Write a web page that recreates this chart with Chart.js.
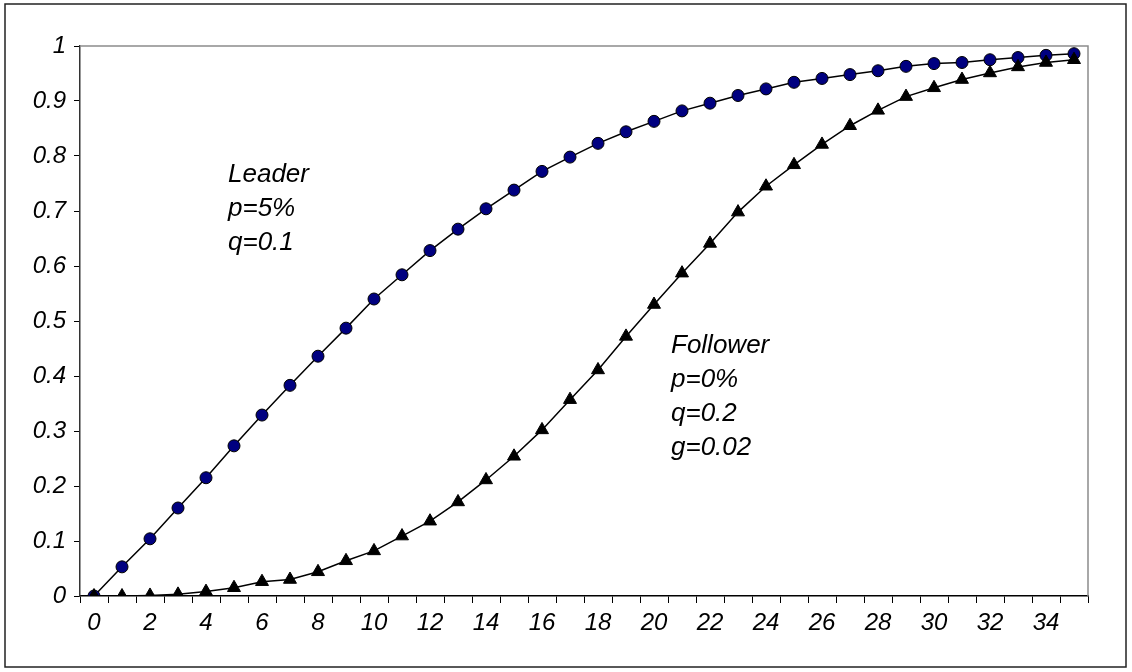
<!DOCTYPE html>
<html>
<head>
<meta charset="utf-8">
<script src="https://cdn.jsdelivr.net/npm/chart.js@4/dist/chart.umd.min.js"></script>
<style>
  html, body { margin: 0; padding: 0; background: #fff; }
  #wrap { position: relative; width: 1132px; height: 672px; }
</style>
</head>
<body>
<div id="wrap"><canvas id="diffusionChart" width="1132" height="672"></canvas></div>
<script>
// Data
const periods = ['0','1','2','3','4','5','6','7','8','9','10','11','12','13','14','15','16','17',
  '18','19','20','21','22','23','24','25','26','27','28','29','30','31','32','33','34','35'];
const leader = [0, 0.053, 0.104, 0.160, 0.215, 0.273, 0.329, 0.383, 0.436, 0.487, 0.540, 0.584,
  0.628, 0.667, 0.704, 0.738, 0.772, 0.798, 0.823, 0.844, 0.863, 0.882, 0.896, 0.910,
  0.922, 0.934, 0.941, 0.948, 0.955, 0.963, 0.968, 0.970, 0.975, 0.979, 0.983, 0.986];
const follower = [0, 0, 0.001, 0.003, 0.008, 0.015, 0.026, 0.030, 0.044, 0.064, 0.082, 0.109,
  0.136, 0.171, 0.211, 0.254, 0.302, 0.357, 0.411, 0.472, 0.530, 0.587, 0.641, 0.698,
  0.745, 0.784, 0.821, 0.855, 0.883, 0.908, 0.924, 0.939, 0.951, 0.962, 0.970, 0.975];
const yTickLabels = ['0','0.1','0.2','0.3','0.4','0.5','0.6','0.7','0.8','0.9','1'];
const leaderNote = ['Leader', 'p=5%', 'q=0.1'];
const followerNote = ['Follower', 'p=0%', 'q=0.2', 'g=0.02'];

const NOTE_FONT = 'italic 26px "Liberation Sans", Arial, sans-serif';

// Frame around the whole picture, grey box round the plot, and the text notes
const framePlugin = {
    id: 'frame',
    beforeDatasetsDraw(chart) {
        const { ctx, chartArea: a } = chart;
        ctx.save();
        ctx.strokeStyle = '#8c8c8c';
        ctx.lineWidth = 1.5;
        ctx.beginPath();
        ctx.moveTo(a.left, a.top);
        ctx.lineTo(a.right, a.top);
        ctx.lineTo(a.right, a.bottom);
        ctx.stroke();
        ctx.strokeStyle = '#222';
        ctx.lineWidth = 1.5;
        ctx.strokeRect(5, 4, 1121, 663);
        ctx.restore();
    },
    afterDraw(chart) {
        const ctx = chart.ctx;
        ctx.save();
        ctx.font = NOTE_FONT;
        ctx.fillStyle = '#000';
        ctx.textAlign = 'left';
        ctx.textBaseline = 'alphabetic';
        leaderNote.forEach((t, i) => ctx.fillText(t, 228, 182 + i * 34));
        followerNote.forEach((t, i) => ctx.fillText(t, 671, 353 + i * 34));
        ctx.restore();
    }
};

const tickFont = { family: '"Liberation Sans", Arial, sans-serif', size: 24, style: 'italic' };

new Chart(document.getElementById('diffusionChart'), {
    type: 'line',
    data: {
        labels: periods,
        datasets: [{
            label: 'Leader',
            data: leader,
            order: 1,
            borderColor: '#000',
            borderWidth: 1.5,
            tension: 0,
            pointStyle: 'circle',
            pointRadius: 6,
            pointBackgroundColor: '#000080',
            pointBorderColor: '#000',
            pointBorderWidth: 1
        }, {
            label: 'Follower',
            data: follower,
            order: 0,
            borderColor: '#000',
            borderWidth: 1.5,
            tension: 0,
            pointStyle: 'triangle',
            pointRadius: 7.5,
            pointBackgroundColor: '#000',
            pointBorderColor: '#000',
            pointBorderWidth: 1
        }]
    },
    options: {
        responsive: false,
        animation: false,
        events: [],
        layout: { padding: { left: 0, top: 46, right: 44, bottom: 0 } },
        plugins: { legend: { display: false }, tooltip: { enabled: false } },
        scales: {
            x: {
                type: 'category',
                offset: true,
                grid: { offset: true, drawOnChartArea: false, drawTicks: true, tickLength: 7, color: '#000', lineWidth: 1 },
                border: { display: true, color: '#000', width: 1.5 },
                ticks: {
                    autoSkip: false,
                    maxRotation: 0,
                    padding: 6,
                    color: '#000',
                    font: tickFont,
                    callback: (v, i) => (i % 2 === 0 ? periods[i] : '')
                },
                afterFit: (s) => { s.height = 76; }
            },
            y: {
                min: 0,
                max: 1,
                grid: { drawOnChartArea: false, drawTicks: true, tickLength: 6, color: '#000', lineWidth: 1 },
                border: { display: true, color: '#333', width: 1.5 },
                ticks: {
                    stepSize: 0.1,
                    padding: 8,
                    color: '#000',
                    font: tickFont,
                    callback: (v, i) => yTickLabels[i]
                },
                afterFit: (s) => { s.width = 80; }
            }
        }
    },
    plugins: [framePlugin]
});
</script>
</body>
</html>
